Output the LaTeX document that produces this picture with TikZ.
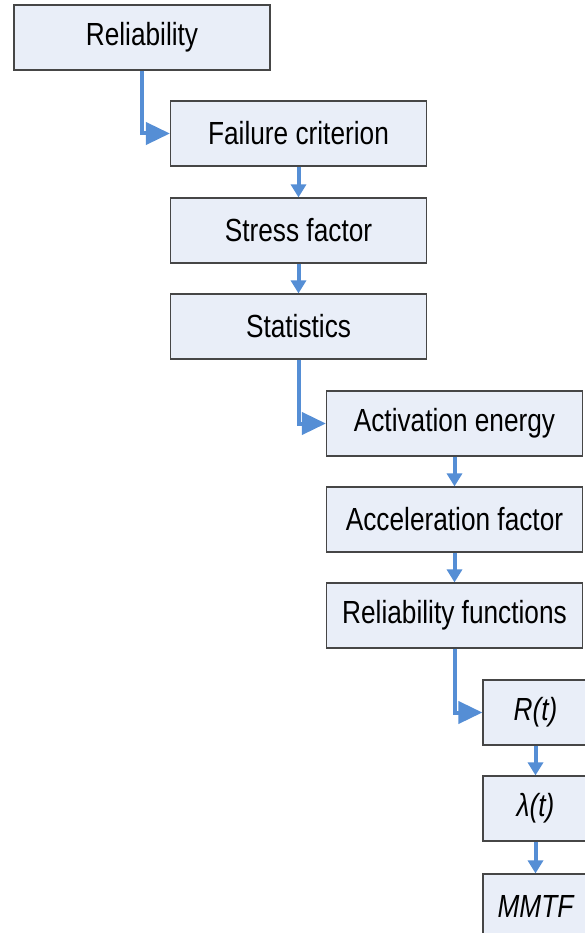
\documentclass[tikz,border=0pt]{standalone}
\usepackage{fontspec}
\setmainfont[FakeStretch=0.82]{Liberation Sans}
\usetikzlibrary{arrows.meta}
\definecolor{boxfill}{RGB}{233,238,248}
\definecolor{boxline}{RGB}{70,70,70}
\definecolor{arrblue}{RGB}{85,142,213}
\begin{document}
\begin{tikzpicture}[x=1pt,y=-1pt,
  stepbox/.style={draw=boxline,line width=1.2pt,fill=boxfill,minimum width=256pt,minimum height=65pt,inner sep=0pt,font=\fontsize{32}{36}\selectfont},
  smallbox/.style={stepbox,minimum width=105pt,font=\fontsize{32}{36}\selectfont\itshape},
  varr/.style={draw=arrblue,line width=4pt,-{Triangle[length=13pt,width=15pt]}},
  harr/.style={draw=arrblue,line width=4pt,-{Triangle[length=24pt,width=22pt]}}]
\useasboundingbox (0,0) rectangle (584,933);
\node[stepbox] (b1) at (142,37.5) {Reliability};
\node[stepbox] (b2) at (298.5,133.5) {Failure criterion};
\node[stepbox] (b3) at (298.5,230.5) {Stress factor};
\node[stepbox] (b4) at (298.5,326.5) {Statistics};
\node[stepbox] (b5) at (454.5,423.5) {Activation energy};
\node[stepbox] (b6) at (454.5,519.5) {Acceleration factor};
\node[stepbox] (b7) at (454.5,615.5) {Reliability functions};
\node[smallbox] (b8) at (535.5,712.5) {R(t)};
\node[smallbox] (b9) at (535.5,808.5) {λ(t)};
\node[smallbox] (b10) at (535.5,906.5) {MMTF};
\draw[harr] (b1.south) |- (b2.west);
\draw[varr] (b2.south) -- (b3.north);
\draw[varr] (b3.south) -- (b4.north);
\draw[harr] (b4.south) |- (b5.west);
\draw[varr] (b5.south) -- (b6.north);
\draw[varr] (b6.south) -- (b7.north);
\draw[harr] (b7.south) |- (b8.west);
\draw[varr] (b8.south) -- (b9.north);
\draw[varr] (b9.south) -- (b10.north);
\end{tikzpicture}
\end{document}
